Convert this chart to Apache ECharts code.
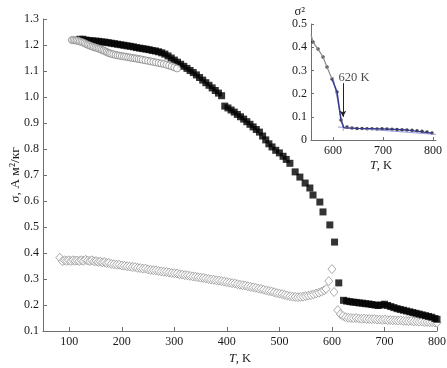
<!DOCTYPE html>
<html><head><meta charset="utf-8">
<script src="https://cdn.jsdelivr.net/npm/echarts@6/dist/echarts.min.js"></script>
<style>html,body{margin:0;padding:0;background:#fff}#c{width:447px;height:368px}</style>
</head><body><div id="c"></div>
<script>
// Main chart: σ (A m²/kg) vs T (K)
const xTicks = [100,200,300,400,500,600,700,800];
const insetXTicks = [600,700,800];
// filled squares
const squares = [[120,1.222],[126,1.222],[132,1.219],[138,1.217],[144,1.216],[150,1.215],[156,1.214],[162,1.212],[168,1.211],[174,1.209],[180,1.207],[186,1.205],[192,1.203],[198,1.201],[204,1.199],[210,1.197],[216,1.195],[222,1.193],[228,1.19],[234,1.188],[240,1.186],[246,1.184],[252,1.182],[258,1.179],[264,1.177],[270,1.174],[276,1.17],[282,1.165],[288,1.158],[294,1.15],[300,1.142],[306,1.134],[312,1.126],[318,1.118],[324,1.11],[330,1.102],[336,1.094],[342,1.085],[348,1.075],[354,1.065],[360,1.055],[366,1.045],[372,1.035],[378,1.025],[384,1.015],[390,1.005],[396,0.965],[402,0.958],[408,0.95],[414,0.942],[420,0.933],[426,0.924],[432,0.915],[438,0.905],[444,0.895],[450,0.885],[456,0.875],[462,0.865],[468,0.85],[474,0.835],[480,0.82],[486,0.808],[493,0.795],[500,0.785],[507,0.772],[513,0.76],[520,0.745],[530,0.712],[539,0.692],[549,0.669],[558,0.65],[564,0.623],[577,0.596],[583,0.558],[596,0.508],[605,0.442],[613,0.285],
[622,0.218],[628,0.215],[634,0.213],[640,0.211],[646,0.21],[652,0.208],[658,0.207],[664,0.205],[670,0.204],[676,0.202],[682,0.2],[688,0.198],[694,0.2],[700,0.203],[706,0.198],[712,0.194],[718,0.19],[724,0.186],[730,0.183],[736,0.18],[742,0.177],[748,0.174],[754,0.171],[760,0.168],[766,0.165],[772,0.162],[778,0.159],[784,0.156],[790,0.153],[796,0.148],[800,0.145]];
// open circles
const circles = [[105,1.219],[108,1.219],[111,1.218],[114,1.217],[117,1.216],[120,1.214],[123,1.212],[126,1.21],[129,1.207],[132,1.204],[135,1.201],[138,1.199],[141,1.196],[144,1.194],[147,1.192],[150,1.19],[153,1.188],[156,1.186],[159,1.184],[162,1.181],[165,1.179],[168,1.176],[171,1.173],[174,1.17],[177,1.168],[180,1.166],[184,1.164],[188,1.162],[192,1.16],[196,1.159],[200,1.157],[204,1.156],[208,1.155],[212,1.153],[216,1.152],[220,1.15],[224,1.149],[228,1.148],[232,1.146],[236,1.145],[240,1.143],[245,1.141],[250,1.139],[255,1.137],[260,1.135],[265,1.133],[270,1.131],[275,1.129],[280,1.127],[285,1.124],[290,1.121],[295,1.118],[300,1.114],[305,1.11]];
// open diamonds
const diamonds = [[82,0.382],[87,0.368],[91,0.372],[95,0.37],[99,0.372],[103,0.369],[107,0.372],[111,0.37],[115,0.371],[119,0.369],[123,0.372],[127,0.37],[131,0.374],[135,0.371],[139,0.369],[143,0.372],[147,0.368],[151,0.369],[155,0.366],[159,0.367],[163,0.364],[167,0.365],[171,0.361],[175,0.362],[180,0.358],[185,0.357],[190,0.355],[195,0.355],[200,0.352],[205,0.351],[210,0.349],[215,0.348],[220,0.346],[225,0.346],[230,0.343],[235,0.342],[240,0.34],[245,0.34],[250,0.337],[255,0.335],[260,0.334],[265,0.333],[270,0.331],[275,0.329],[280,0.328],[285,0.327],[290,0.325],[295,0.323],[300,0.322],[305,0.321],[310,0.318],[315,0.317],[320,0.315],[325,0.314],[330,0.312],[335,0.31],[340,0.309],[345,0.307],[350,0.305],[355,0.304],[360,0.302],[365,0.3],[370,0.298],[375,0.297],[380,0.295],[385,0.294],[390,0.292],[395,0.29],[400,0.288],[405,0.286],[410,0.284],[415,0.283],[420,0.28],[425,0.278],[430,0.276],[435,0.275],[440,0.272],[445,0.27],[450,0.268],[455,0.266],[460,0.263],[465,0.262],[470,0.259],[475,0.256],[480,0.254],[485,0.252],[490,0.249],[495,0.246],[500,0.244],[505,0.242],[510,0.239],[515,0.236],[520,0.234],[525,0.232],[530,0.231],[535,0.23],[540,0.231],[545,0.232],[550,0.234],[555,0.236],[560,0.238],[565,0.241],[570,0.244],[575,0.247],[580,0.251],[585,0.256],[589,0.262],[594,0.292],[600,0.338],[604,0.25],[611,0.18],[616,0.165],[621,0.158],[626,0.153],[631,0.151],[636,0.15],[641,0.149],[646,0.15],[651,0.148],[656,0.147],[661,0.148],[666,0.146],[671,0.146],[676,0.145],[681,0.146],[686,0.144],[691,0.144],[696,0.143],[701,0.144],[706,0.142],[711,0.142],[716,0.141],[721,0.141],[726,0.14],[731,0.141],[736,0.139],[741,0.139],[746,0.138],[751,0.139],[756,0.137],[761,0.137],[766,0.136],[771,0.137],[776,0.135],[781,0.135],[786,0.134],[791,0.134],[796,0.133],[800,0.132]];
// inset: σ² vs T
const insetPts = [[560,0.422],[570,0.392],[580,0.358],[588,0.315],[598,0.263],[608,0.207],[616,0.086],[628,0.056],[638,0.052],[648,0.05],[658,0.05],[668,0.049],[678,0.048],[688,0.047],[698,0.048],[708,0.047],[718,0.046],[728,0.045],[738,0.044],[748,0.043],[758,0.042],[768,0.04],[778,0.038],[788,0.035],[798,0.03]];
const insetGrayLine = [[556,0.455],[560,0.422],[570,0.392],[580,0.358],[588,0.315],[598,0.263]];
const insetSteepLine = [[598,0.263],[608,0.207],[616,0.086],[622,0.052]];
const insetFlatLine = [[622,0.052],[648,0.05],[698,0.048],[748,0.043],[798,0.03]];
const tangentSteep = [[600,0.272],[621,0.04]];
const tangentFlat = [[610,0.056],[806,0.024]];
const Tc = 620;

const FONT = 'Liberation Serif';
const axisCol = '#6f6f6f';
const txt = '#1a1a1a';
const chart = echarts.init(document.getElementById('c'), null, {renderer:'canvas'});
chart.setOption({
  animation:false,
  backgroundColor:'#fff',
  grid:[
    {left:43,right:10,top:19,bottom:37,outerBoundsMode:'none',containLabel:false},
    {left:311,right:11,top:24,bottom:228,outerBoundsMode:'none',containLabel:false}
  ],
  xAxis:[
    {gridIndex:0,type:'value',min:50,max:800,
     name:'{i|T}, K',nameLocation:'middle',nameGap:21,nameMoveOverlap:false,
     nameTextStyle:{fontFamily:FONT,fontSize:12.5,color:txt,rich:{i:{fontFamily:FONT,fontStyle:'italic',fontSize:12.5,color:txt}}},
     axisLine:{lineStyle:{color:axisCol}},
     axisTick:{inside:true,length:4,lineStyle:{color:axisCol},customValues:xTicks},
     axisLabel:{fontFamily:FONT,fontSize:12,color:txt,margin:5,customValues:xTicks},
     splitLine:{show:false}},
    {gridIndex:1,type:'value',min:556,max:806,
     name:'{i|T}, K',nameLocation:'middle',nameGap:19,nameMoveOverlap:false,
     nameTextStyle:{fontFamily:FONT,fontSize:12.5,color:txt,padding:[0,0,0,15],rich:{i:{fontFamily:FONT,fontStyle:'italic',fontSize:12.5,color:txt}}},
     axisLine:{lineStyle:{color:axisCol}},
     axisTick:{inside:true,length:3,lineStyle:{color:axisCol},customValues:insetXTicks},
     axisLabel:{fontFamily:FONT,fontSize:12,color:txt,margin:5,customValues:insetXTicks},
     splitLine:{show:false}}
  ],
  yAxis:[
    {gridIndex:0,type:'value',min:0.1,max:1.3,interval:0.1,
     name:'σ, А м²/кг',nameLocation:'middle',nameGap:21,nameMoveOverlap:false,
     nameTextStyle:{fontFamily:FONT,fontSize:13.5,color:txt},
     axisLine:{show:true,lineStyle:{color:axisCol}},
     axisTick:{show:true,inside:true,length:4,lineStyle:{color:axisCol}},
     axisLabel:{fontFamily:FONT,fontSize:12,color:txt,margin:4,formatter:v=>v.toFixed(1)},
     splitLine:{show:false}},
    {gridIndex:1,type:'value',min:0,max:0.5,interval:0.1,
     name:'σ²',nameLocation:'end',nameGap:5,
     nameTextStyle:{fontFamily:FONT,fontSize:12.5,color:txt,align:'right',padding:[0,6,0,0]},
     axisLine:{show:true,lineStyle:{color:axisCol}},
     axisTick:{show:true,inside:true,length:3,lineStyle:{color:axisCol}},
     axisLabel:{fontFamily:FONT,fontSize:12,color:txt,margin:4,formatter:v=>v===0?'0':v.toFixed(1)},
     splitLine:{show:false}}
  ],
  series:[
    {type:'scatter',xAxisIndex:0,yAxisIndex:0,data:diamonds,symbol:'diamond',symbolSize:[8,9],
     itemStyle:{color:'#fff',borderColor:'#8a8a8a',borderWidth:0.9}},
    {type:'scatter',xAxisIndex:0,yAxisIndex:0,data:squares,symbol:'rect',symbolSize:7,
     itemStyle:{color:'#000'}},
    {type:'scatter',xAxisIndex:0,yAxisIndex:0,data:circles,symbol:'circle',symbolSize:7,
     itemStyle:{color:'#fff',borderColor:'#7a7a7a',borderWidth:0.9}},
    {type:'line',xAxisIndex:1,yAxisIndex:1,data:tangentSteep,symbol:'none',
     lineStyle:{color:'#9a9ad8',width:1}},
    {type:'line',xAxisIndex:1,yAxisIndex:1,data:tangentFlat,symbol:'none',
     lineStyle:{color:'#9a9ad8',width:1}},
    {type:'line',xAxisIndex:1,yAxisIndex:1,data:insetGrayLine,symbol:'none',
     lineStyle:{color:'#8c8c8c',width:1.2}},
    {type:'line',xAxisIndex:1,yAxisIndex:1,data:insetSteepLine,symbol:'none',
     lineStyle:{color:'#3a3a8c',width:1.5}},
    {type:'line',xAxisIndex:1,yAxisIndex:1,data:insetFlatLine,symbol:'none',
     lineStyle:{color:'#3a3a8c',width:1.3}},
    {type:'scatter',xAxisIndex:1,yAxisIndex:1,data:insetPts,symbol:'circle',symbolSize:3.5,
     itemStyle:{color:'#111'},
     markLine:{silent:true,symbol:['none','arrow'],symbolSize:[5,6],
       lineStyle:{color:'#222',width:1,type:'solid'},label:{show:false},
       data:[[{coord:[Tc,0.245]},{coord:[Tc,0.1]}]]}},
    {type:'scatter',xAxisIndex:1,yAxisIndex:1,data:[[642,0.267]],symbolSize:1,
     itemStyle:{color:'rgba(0,0,0,0)'},
     label:{show:true,position:'inside',formatter:Tc+' K',fontFamily:FONT,fontSize:12.5,color:txt}}
  ]
});
</script></body></html>
